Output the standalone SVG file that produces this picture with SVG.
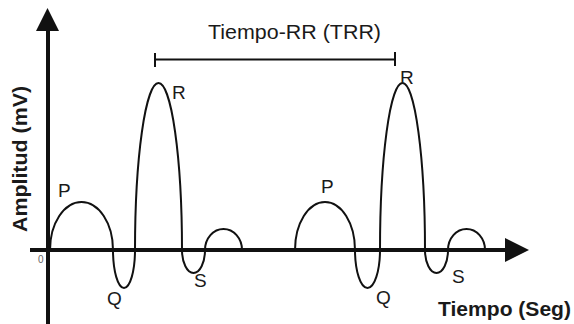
<svg xmlns="http://www.w3.org/2000/svg" width="574" height="324" viewBox="0 0 574 324">
<style>
.ax{stroke:#111;stroke-width:4;fill:none}
.wave{stroke:#111;stroke-width:2;fill:none}
.head{fill:#111}
.lbl{font-family:"Liberation Sans",Arial,sans-serif;font-size:19px;fill:#1a1a1a}
.bold{font-family:"Liberation Sans",Arial,sans-serif;font-size:20px;font-weight:bold;fill:#1a1a1a}
.ttl{font-family:"Liberation Sans",Arial,sans-serif;font-size:20px;fill:#1a1a1a}
.br{stroke:#111;stroke-width:2;fill:none}
</style>
<rect width="574" height="324" fill="#fff"/>
<g id="axes">
  <line class="ax" x1="48" y1="28" x2="48" y2="324"/>
  <polygon class="head" points="47.5,8 36,31 59,31"/>
  <line class="ax" x1="30" y1="250" x2="508" y2="250"/>
  <polygon class="head" points="529,250 505,238 505,262"/>
  <text x="38" y="263" font-family="Liberation Sans,Arial,sans-serif" font-size="10" fill="#666">0</text>
</g>
<g id="wave1">
  <path class="wave" d="M50,250 A31.5,48 0 0 1 113,250 A11,38 0 0 0 135,250 A23.5,167 0 0 1 182,250 A11.5,23 0 0 0 205,250 A18.5,21 0 0 1 242,250"/>
</g>
<g id="wave2">
  <path class="wave" d="M295,250 A30,48 0 0 1 355,250 A12.5,38 0 0 0 380,250 A22.5,167 0 0 1 425,250 A11.5,23 0 0 0 448,250 A18.5,21 0 0 1 485,250"/>
</g>
<g id="labels">
  <text class="lbl" x="58" y="197">P</text>
  <text class="lbl" x="172" y="99">R</text>
  <text class="lbl" x="107" y="305">Q</text>
  <text class="lbl" x="194" y="287">S</text>
  <text class="lbl" x="321" y="193">P</text>
  <text class="lbl" x="400" y="84">R</text>
  <text class="lbl" x="376" y="304">Q</text>
  <text class="lbl" x="452" y="283">S</text>
</g>
<g id="bracket">
  <line class="br" x1="155" y1="59.5" x2="395" y2="59.5"/>
  <line class="br" x1="155" y1="53" x2="155" y2="67"/>
  <line class="br" x1="395" y1="52" x2="395" y2="66"/>
  <text class="ttl" x="208" y="39" textLength="173" lengthAdjust="spacingAndGlyphs">Tiempo-RR (TRR)</text>
</g>
<g id="axis-titles">
  <text class="bold" x="438" y="316" textLength="133" lengthAdjust="spacingAndGlyphs">Tiempo (Seg)</text>
  <text class="bold" transform="translate(27,159) rotate(-90)" text-anchor="middle" textLength="146" lengthAdjust="spacingAndGlyphs">Amplitud (mV)</text>
</g>
</svg>
